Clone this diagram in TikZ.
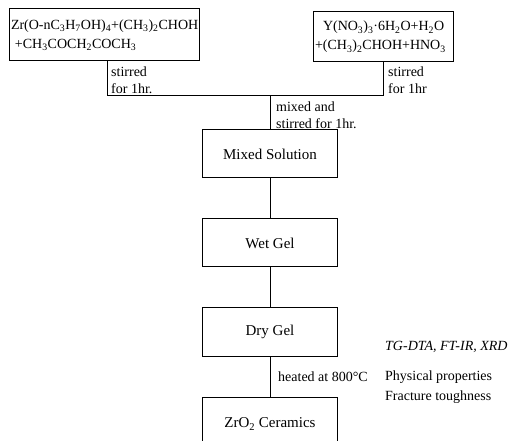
\documentclass[tikz,border=0pt]{standalone}
\usepackage{fontspec}
\setmainfont{Liberation Serif}
\usetikzlibrary{positioning}
\tikzset{
    source/.style={rectangle, draw=black, line width=1pt, align=left, inner xsep=2pt, font=\fontsize{14}{19}\selectfont},
    stage/.style={rectangle, draw=black, line width=1pt, minimum width=135pt, minimum height=48pt, align=center, font=\fontsize{15}{17}\selectfont},
    note/.style={align=left, inner sep=0pt, font=\fontsize{14}{17}\selectfont},
    link/.style={line width=1pt}
}

\begin{document}
\begin{tikzpicture}[x=1pt, y=-1pt, node distance=40pt]
    \useasboundingbox (0,0) rectangle (531,441);

    % Starting solutions
    \node (zr) [source, text width=186pt, minimum height=52pt] at (104,35)
        {\mbox{Zr(O-nC\textsubscript{3}H\textsubscript{7}OH)\textsubscript{4}+(CH\textsubscript{3})\textsubscript{2}CHOH}\\
         \hspace{4pt}+CH\textsubscript{3}COCH\textsubscript{2}COCH\textsubscript{3}};
    \node (yn) [source, text width=136pt, minimum height=50pt] at (383,37)
        {\hspace{8pt}Y(NO\textsubscript{3})\textsubscript{3}·6H\textsubscript{2}O+H\textsubscript{2}O\\
         +(CH\textsubscript{3})\textsubscript{2}CHOH+HNO\textsubscript{3}};

    % Main route
    \node (mix) [stage] at (270,154) {Mixed Solution};
    \node (wet) [stage, below=of mix] {Wet Gel};
    \node (dry) [stage, below=of wet] {Dry Gel};
    \node (zro) [stage, below=of dry, minimum height=54pt] {ZrO\textsubscript{2} Ceramics};

    \coordinate (join) at (mix.north |- 0,96);
    \draw [link] ([xshift=3pt]zr.south) |- (join);
    \draw [link] (yn.south) |- (join);
    \draw [link] (join) -- (mix);
    \draw [link] (mix) -- (wet);
    \draw [link] (wet) -- (dry);
    \draw [link] (dry) -- (zro);

    % Labels
    \node (stirA) [note, anchor=west] at (111,80) {stirred\\for 1hr.};
    \node (stirB) [note, anchor=west] at (388,80) {stirred\\for 1hr};
    \node (stirC) [note, anchor=west] at (276,115) {mixed and\\stirred for 1hr.};
    \node (heat) [note, anchor=west] at (278,377) {heated at 800\textdegree C};
    \node (tests) [note, anchor=west] at (385,347) {\itshape TG-DTA, FT-IR, XRD};
    \node (props) [note, anchor=west] at (385,377) {Physical properties};
    \node (tough) [note, anchor=west] at (385,397) {Fracture toughness};
\end{tikzpicture}
\end{document}
